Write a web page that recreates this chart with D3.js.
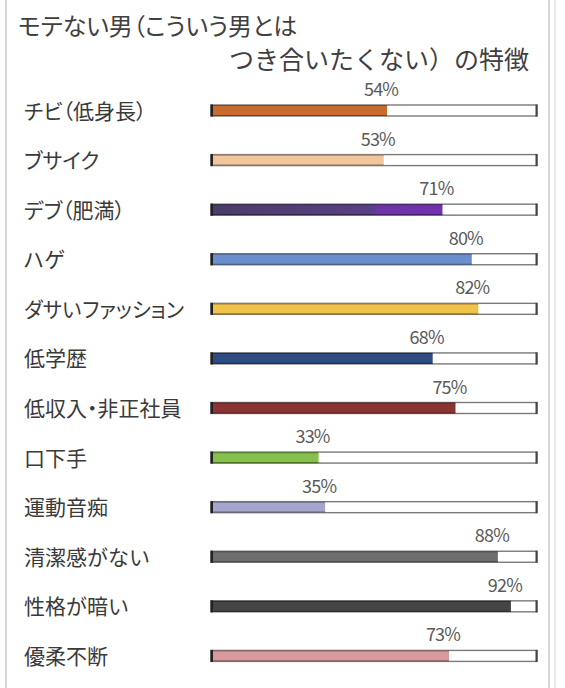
<!DOCTYPE html>
<html><head><meta charset="utf-8">
<script src="https://cdn.jsdelivr.net/npm/d3@7/dist/d3.min.js"></script>
<style>
html,body{margin:0;padding:0;background:#fff;}
svg text{font-family:"Noto Sans CJK JP","Noto Sans",sans-serif;}
.p{font-feature-settings:"palt";}
</style></head>
<body><svg id="c" width="565" height="688"></svg>
<script>
const titleLines = ["モテない男（こういう男とは", "つき合いたくない）の特徴"];
const categories = ["チビ（低身長）","ブサイク","デブ（肥満）","ハゲ","ダサいファッション","低学歴","低収入・非正社員","口下手","運動音痴","清潔感がない","性格が暗い","優柔不断"];
const values = [54,53,71,80,82,68,75,33,35,88,92,73];
const colors = ["#c96b2c","#f2c69c","url(#purpleGrad)","#6a8fcf","#efc24a","#2f4b84","#8a3434","#86c04c","#a5a4cc","#6e6e6e","#454545","#d99a9c"];

const svg = d3.select("#c");
const W = 565, H = 688;

// frame
svg.append("rect").attr("x",0).attr("y",0).attr("width",W).attr("height",H).attr("fill","#fff");
svg.append("rect").attr("x",6).attr("y",-2).attr("width",543).attr("height",H+4)
  .attr("fill","none").attr("stroke","#c8c8c8").attr("stroke-width",1.5);
svg.append("line").attr("x1",555).attr("x2",555).attr("y1",0).attr("y2",H).attr("stroke","#e2e2e2").attr("stroke-width",1.5);

const defs = svg.append("defs");
const g1 = defs.append("linearGradient").attr("id","purpleGrad").attr("x1","0%").attr("x2","100%");
g1.append("stop").attr("offset","0%").attr("stop-color","#4a3d68");
g1.append("stop").attr("offset","70%").attr("stop-color","#5a3f86");
g1.append("stop").attr("offset","72%").attr("stop-color","#6e34a8");
g1.append("stop").attr("offset","100%").attr("stop-color","#7332ae");

// title
svg.append("text").attr("class","p").attr("x",18).attr("y",35).attr("font-size",24).attr("fill","#404040")
  .text(titleLines[0]);
svg.append("text").attr("x",529).attr("y",69).attr("font-size",25).attr("fill","#404040")
  .attr("text-anchor","end").text(titleLines[1]);

const x = d3.scaleLinear().domain([0,100]).range([211,537]);
const y = d3.scaleBand().domain(categories).range([86,681]).paddingInner(0).paddingOuter(0);
const barH = 11;
const barY = d => y(d) + 19;

const rows = svg.append("g").selectAll("g").data(categories).join("g");

const narrow = /[\u30A0-\u30FF（）・]/;
const maxLabelW = 160;
const lbl = rows.append("text")
  .attr("x",24).attr("y",d=>barY(d)+barH/2+8)
  .attr("font-size",21).attr("fill","#3a3a3a");
lbl.selectAll("tspan").data(d=>Array.from(d)).join("tspan")
  .attr("class",c=>narrow.test(c)?"p":null)
  .text(c=>c);
lbl.each(function(){
  const w = this.getComputedTextLength();
  if (w > maxLabelW) d3.select(this).attr("textLength",maxLabelW).attr("lengthAdjust","spacingAndGlyphs");
});

// background track
rows.append("rect")
  .attr("x",x(0)).attr("y",d=>barY(d))
  .attr("width",x(100)-x(0)).attr("height",barH)
  .attr("fill","#fff").attr("stroke","#7a7a7a").attr("stroke-width",1.4);

// value bar
rows.append("rect")
  .attr("x",x(0)).attr("y",d=>barY(d))
  .attr("width",(d,i)=>x(values[i])-x(0)).attr("height",barH)
  .attr("fill",(d,i)=>colors[i]);

// edges of value bar
rows.append("line")
  .attr("x1",x(0)).attr("x2",(d,i)=>x(values[i]))
  .attr("y1",d=>barY(d)+0.5).attr("y2",d=>barY(d)+0.5)
  .attr("stroke","#000").attr("stroke-opacity",0.35).attr("stroke-width",1.2);
rows.append("line")
  .attr("x1",x(0)).attr("x2",(d,i)=>x(values[i]))
  .attr("y1",d=>barY(d)+barH-0.5).attr("y2",d=>barY(d)+barH-0.5)
  .attr("stroke","#000").attr("stroke-opacity",0.4).attr("stroke-width",1.2);

// left dark cap and right end cap
rows.append("rect").attr("x",x(0)-0.5).attr("y",d=>barY(d)-0.5).attr("width",2.5).attr("height",barH+1).attr("fill","#222");
rows.append("rect").attr("x",x(100)-1.5).attr("y",d=>barY(d)-0.5).attr("width",2).attr("height",barH+1).attr("fill","#444");

// value labels
rows.append("text")
  .attr("x",(d,i)=>x(values[i])-6).attr("y",d=>barY(d)-9)
  .attr("text-anchor","middle").attr("font-size",18).attr("fill","#5a5a5a")
  .attr("font-family","'Liberation Sans',Arial,sans-serif").attr("letter-spacing","-0.8")
  .text((d,i)=>values[i]+"%");
</script></body></html>
